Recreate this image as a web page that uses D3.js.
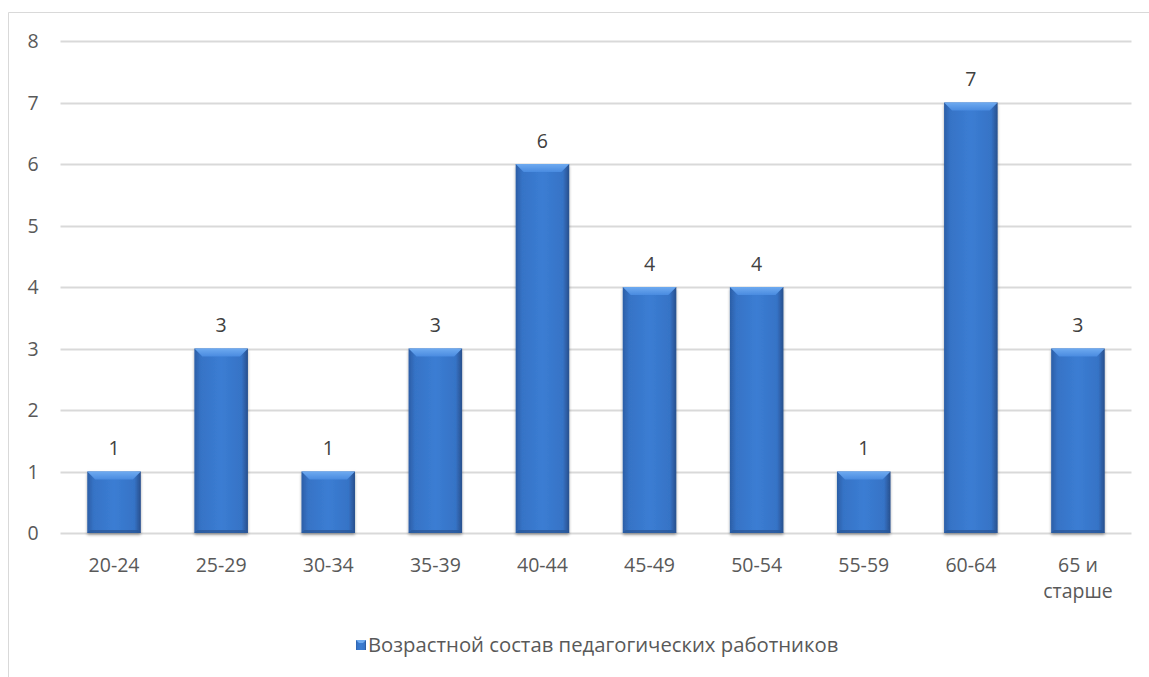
<!DOCTYPE html>
<html><head><meta charset="utf-8">
<script src="https://cdn.jsdelivr.net/npm/d3@7"></script>
<style>
html,body{margin:0;padding:0;background:#fff;}
svg{display:block;font-family:"Open Sans","Liberation Sans",sans-serif;}
</style></head>
<body>
<svg id="chart" width="1149" height="677"></svg>
<script>
const categories = ["20-24","25-29","30-34","35-39","40-44","45-49","50-54","55-59","60-64","65 и старше"];
const values = [1,3,1,3,6,4,4,1,7,3];
const yTicks = [0,1,2,3,4,5,6,7,8];
const seriesName = "Возрастной состав педагогических работников";

const FS = "19.5px";
const svg = d3.select("#chart");
const W = 1149, H = 677;
const m = {left:60.5, right:1131.5, top:41, bottom:533};

svg.append("path").attr("d", `M8.5,${H} V12.5 H${W}`).attr("fill","none").attr("stroke","#d9d9d9").attr("stroke-width",1);

const defs = svg.append("defs");
const g1 = defs.append("linearGradient").attr("id","barGrad").attr("x1","0").attr("x2","1").attr("y1","0").attr("y2","0");
[[0,"#2b5ea6"],[0.12,"#3673c6"],[0.5,"#3b7dd3"],[0.88,"#3673c6"],[1,"#284f8c"]].forEach(([o,c])=>g1.append("stop").attr("offset",o).attr("stop-color",c));
const g2 = defs.append("linearGradient").attr("id","topGrad").attr("x1","0").attr("x2","0").attr("y1","0").attr("y2","1");
[[0,"#6eaaf0"],[1,"#4a8be0"]].forEach(([o,c])=>g2.append("stop").attr("offset",o).attr("stop-color",c));
const f = defs.append("filter").attr("id","shadow").attr("x","-20%").attr("y","-5%").attr("width","140%").attr("height","115%");
f.append("feGaussianBlur").attr("in","SourceAlpha").attr("stdDeviation",1.5);
f.append("feOffset").attr("dx",0).attr("dy",1.5).attr("result","b");
f.append("feComponentTransfer").append("feFuncA").attr("type","linear").attr("slope",0.35);
const fm = f.append("feMerge"); fm.append("feMergeNode"); fm.append("feMergeNode").attr("in","SourceGraphic");

const x = d3.scaleBand().domain(categories).range([m.left, m.right]).paddingInner(0.5).paddingOuter(0.25);
const y = d3.scaleLinear().domain([0,8]).range([m.bottom, m.top]);

svg.append("g").selectAll("line").data(yTicks).join("line")
  .attr("x1", m.left).attr("x2", m.right)
  .attr("y1", d=>Math.round(y(d))+0.5).attr("y2", d=>Math.round(y(d))+0.5)
  .attr("stroke","#d9d9d9").attr("stroke-width",2);

const yAxis = svg.append("g").attr("transform",`translate(33,0)`)
  .call(d3.axisLeft(y).tickValues(yTicks).tickSize(0).tickPadding(0).tickFormat(d3.format("d")));
yAxis.select(".domain").remove();
yAxis.selectAll("text").attr("fill","#595959").style("font-size",FS).style("font-family","'Open Sans','Liberation Sans',sans-serif")
  .attr("x",0).attr("dy","0.35em").attr("text-anchor","middle");

const bars = svg.append("g").selectAll("g").data(values).join("g").attr("filter","url(#shadow)");
bars.each(function(d,i){
  const gx = x(categories[i]), bw = x.bandwidth();
  const top = y(d), bot = y(0);
  const s = d3.select(this);
  s.append("rect").attr("x",gx).attr("y",top).attr("width",bw).attr("height",bot-top).attr("fill","url(#barGrad)");
  const b = 8;
  s.append("path").attr("d",`M${gx},${top} H${gx+bw} L${gx+bw-b},${top+b} H${gx+b} Z`).attr("fill","url(#topGrad)");
  s.append("path").attr("d",`M${gx},${bot} H${gx+bw} L${gx+bw-3},${bot-3} H${gx+3} Z`).attr("fill","#2a5798").attr("opacity",0.8);
});

svg.append("g").selectAll("text").data(values).join("text")
  .attr("x",(d,i)=>x(categories[i])+x.bandwidth()/2)
  .attr("y",d=>y(d)-23).attr("dy","0.35em")
  .attr("text-anchor","middle").attr("fill","#404040").style("font-size",FS)
  .text(d=>d);

const xl = svg.append("g").selectAll("text").data(categories).join("text")
  .attr("x",d=>x(d)+x.bandwidth()/2).attr("y",565)
  .attr("text-anchor","middle").attr("fill","#595959").style("font-size",FS);
xl.each(function(d){
  const parts = d === "65 и старше" ? ["65 и","старше"] : [d];
  const t = d3.select(this);
  parts.forEach((p,j)=>t.append("tspan").attr("x",x(d)+x.bandwidth()/2).attr("dy", j===0?"0.35em":"26px").text(p));
});

const lg = svg.append("g");
lg.append("rect").attr("x",356).attr("y",640).attr("width",10).attr("height",10).attr("fill","url(#barGrad)");
lg.append("path").attr("d","M356,640 H366 L363,643 H359 Z").attr("fill","#6eaaf0");
lg.append("text").attr("x",368).attr("y",645).attr("dy","0.35em").attr("fill","#595959").style("font-size","20.3px").text(seriesName);
</script>
</body></html>
